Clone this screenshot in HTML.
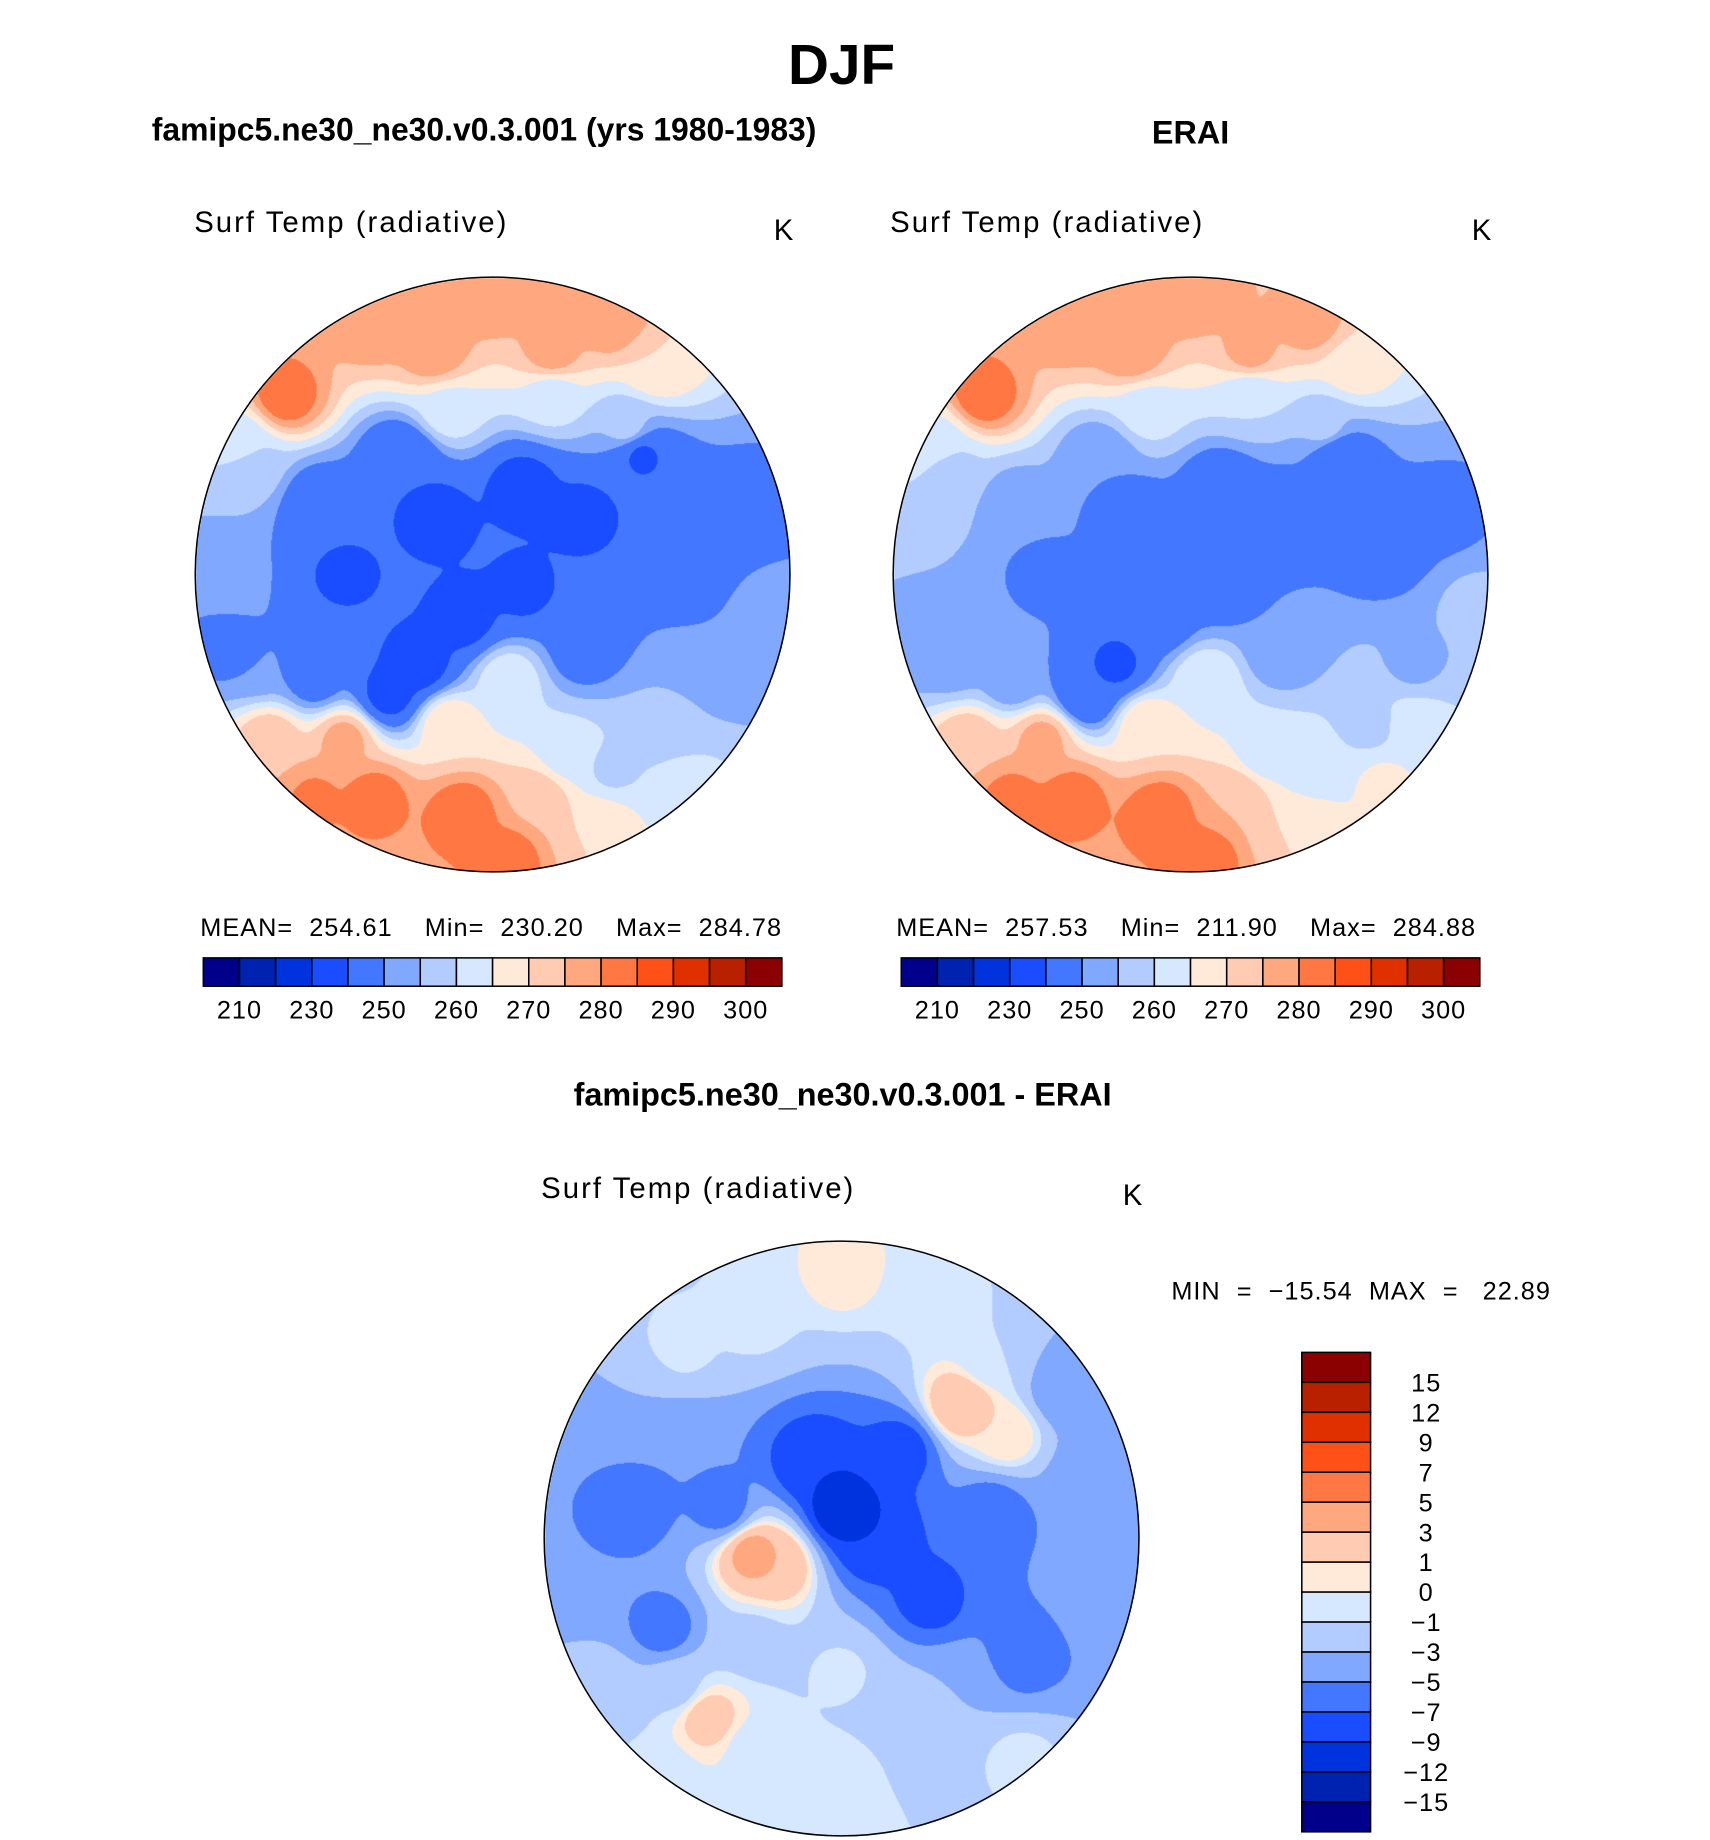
<!DOCTYPE html>
<html><head><meta charset="utf-8">
<style>
body{margin:0;background:#fff;}
#wrap{position:relative;width:1710px;height:1840px;overflow:hidden;background:#fff;}
#root{position:absolute;left:0;top:0;width:1710px;height:1840px;transform:scale(1.0115);transform-origin:0 0;font-family:"Liberation Sans",sans-serif;color:#000;}
.t{position:absolute;white-space:nowrap;line-height:1;transform:translateY(-50%);}
.c{transform:translate(-50%,-50%);}
.lbl{font-size:29px;letter-spacing:2px;font-weight:normal;}
.st{font-size:25px;letter-spacing:1px;}
canvas{position:absolute;}
svg{position:absolute;left:0;top:0;}
</style></head>
<body>
<div id="wrap">
<div id="root">
<div class="t c" style="left:832px;top:64px;font-size:56px;font-weight:bold;">DJF</div>
<div class="t" style="left:150px;top:128px;font-size:32px;font-weight:bold;transform:translateY(-50%) scaleX(0.985);transform-origin:left center;">famipc5.ne30_ne30.v0.3.001 (yrs 1980-1983)</div>
<div class="t c" style="left:1177px;top:131px;font-size:32px;font-weight:bold;">ERAI</div>
<div class="t lbl" style="left:192px;top:221px;">Surf Temp (radiative)</div>
<div class="t lbl" style="left:765px;top:229px;">K</div>
<div class="t lbl" style="left:880px;top:221px;">Surf Temp (radiative)</div>
<div class="t lbl" style="left:1455px;top:229px;">K</div>
<div class="t st" style="left:198px;top:918px;">MEAN=&nbsp; 254.61&nbsp;&nbsp;&nbsp; Min=&nbsp; 230.20&nbsp;&nbsp;&nbsp; Max=&nbsp; 284.78</div>
<div class="t st" style="left:886px;top:918px;">MEAN=&nbsp; 257.53&nbsp;&nbsp;&nbsp; Min=&nbsp; 211.90&nbsp;&nbsp;&nbsp; Max=&nbsp; 284.88</div>
<div class="t c" style="left:833px;top:1082px;font-size:32px;font-weight:bold;">famipc5.ne30_ne30.v0.3.001 - ERAI</div>
<div class="t lbl" style="left:535px;top:1176px;">Surf Temp (radiative)</div>
<div class="t lbl" style="left:1110px;top:1183px;">K</div>
<div class="t st" style="left:1158px;top:1277px;">MIN&nbsp; =&nbsp; −15.54&nbsp; MAX&nbsp; =&nbsp;&nbsp; 22.89</div>
<canvas id="cL" width="588" height="588" style="left:193px;top:274px;"></canvas>
<canvas id="cR" width="588" height="588" style="left:883px;top:274px;"></canvas>
<canvas id="cD" width="588" height="588" style="left:538px;top:1227px;"></canvas>
<svg id="ov" width="1710" height="1840"></svg>
</div>
</div>
<script>
const tLevels=[210,220,230,240,250,255,260,265,270,275,280,285,290,295,300];
const tTicks=[210,230,250,260,270,280,290,300];
const dLevels=[-15,-12,-9,-7,-5,-3,-1,0,1,3,5,7,9,12,15];
const dTicks=[15,12,9,7,5,3,1,0,-1,-3,-5,-7,-9,-12,-15];
const colors=["#00008b","#0022b0","#0033dd","#1a4dff","#4477ff","#80a8ff","#b3ccff","#d6e8ff","#ffead9","#ffcbb3","#ffa880","#ff7844","#ff5018","#e03000","#b82000","#8b0000"];
// Model map anchors
const mU=[0,-0.4,0.4,-0.7,0.55,-0.15,0.2,0.45,-0.8,-0.9,-0.9,-0.6,-0.5,-0.2,0.1,0.3,0.1,0.5,-0.3,0.65,0.85,0.95,0.75,0.6,0.4,0.25,0.35,0.65,0.3,-0.25,-0.1,-0.35,-0.6,-0.8,-0.75,-0.5,-0.15,0.05,-0.4,-0.1,0.05,-0.6,0.15,-0.85,-0.2,0.2];
const mV=[-0.95,-0.85,-0.85,-0.6,-0.7,-0.55,-0.6,-0.5,-0.35,0,0.25,-0.25,0,-0.2,-0.3,-0.2,0.05,-0.4,-0.4,-0.1,-0.2,0.1,0.3,0.5,0.65,0.6,0.85,0.7,0.25,0.3,0.15,0.4,0.35,0.3,0.55,0.55,0.5,0.35,0.75,0.8,0.95,0.75,0.75,-0.45,-0.75,-0.75];
const mVal=[280,280,279,284,270,263,262,257,257,252,248,244,238,236,236,237,238,239,241,243,246,252,250,256,259,262,270,262,246,234,236,236,246,250,274,277,270,264,283,284,283,281,274,262,279,278];
// ERAI map anchors
const eU=[0,-0.4,0.4,-0.7,0.55,-0.15,0.2,0.45,-0.8,-0.9,-0.9,-0.6,-0.5,-0.2,0.1,0.3,0.1,0.5,-0.3,0.65,0.85,0.95,0.75,0.6,0.4,0.25,0.35,0.65,0.3,-0.25,-0.1,-0.35,-0.6,-0.8,-0.75,-0.5,-0.15,0.05,-0.4,-0.1,0.05,-0.6,0.15,-0.85,0.75,-0.2,0.2];
const eV=[-0.95,-0.85,-0.85,-0.6,-0.7,-0.55,-0.6,-0.5,-0.35,0,0.25,-0.25,0,-0.2,-0.3,-0.2,0.05,-0.4,-0.4,-0.1,-0.2,0.1,0.3,0.5,0.65,0.6,0.85,0.7,0.25,0.3,0.15,0.4,0.35,0.3,0.55,0.55,0.5,0.35,0.75,0.8,0.95,0.75,0.75,-0.45,0.5,-0.75,-0.75];
const eVal=[280,280,278,284,268,262,260,257,258,255,252,252,248,245,244,244,246,243,250,244,248,256,254,258,262,262,270,266,250,238,244,240,250,252,274,277,270,265,283,284,283,282,275,263,263,279,277];
// Difference map anchors
const dU=[0,0.1,-0.1,0.2,-0.4,-0.7,-0.85,-0.6,0.5,0.7,0.85,0.6,0.3,0.4,0.2,0,-0.3,-0.55,-0.3,0,-0.6,0.3,-0.8,0,-0.3,0.3,-0.55,-0.7,0.5,0.4,0.55,0.75,-0.55,-0.3,-0.22,-0.45,0.6,-0.2,0.1,0.6,-0.85,0.9];
const dV=[-0.1,0,-0.25,-0.3,-0.1,-0.1,0.1,0.3,-0.1,0.1,-0.2,0.4,0.2,0.5,0.6,0.45,0.35,0.5,0.7,0.8,0.8,0.85,0.5,-0.9,-0.75,-0.8,-0.65,-0.5,-0.6,-0.45,-0.35,-0.5,-0.3,0.05,0.08,0.6,0.75,0.95,0.95,0.25,-0.2,0.2];
const dVal=[-11,-9,-9,-8,-6,-6,-5,-6,-6,-5,-5,-6,-8,-3,-1.5,-0.8,-1.5,-1.5,-0.5,-0.5,-0.5,-1.5,-2,0.5,-0.5,-0.5,-0.5,-3,-1,3,1,-5,-5,4,3,2,-0.5,-0.5,-0.5,-5,-5,-4];

function levelIndex(v,lev){let i=0;while(i<lev.length&&v>=lev[i])i++;return i;}
function hex(h){return [parseInt(h.substr(1,2),16),parseInt(h.substr(3,2),16),parseInt(h.substr(5,2),16)];}
const rgb=colors.map(hex);
function drawMap(id,us,vs,vals,lev){
  const cv=document.getElementById(id),ctx=cv.getContext('2d');
  const W=cv.width,R=W/2,img=ctx.createImageData(W,W);
  for(let y=0;y<W;y++)for(let x=0;x<W;x++){
    const u=(x-R)/R,v=(y-R)/R; if(u*u+v*v>1)continue;
    let s=0,w=0;
    for(let i=0;i<us.length;i++){const d=(u-us[i])**2+(v-vs[i])**2+1e-4;const ww=1/Math.pow(d,1.6);s+=ww*vals[i];w+=ww;}
    const c=rgb[levelIndex(s/w,lev)],k=(y*W+x)*4;
    img.data[k]=c[0];img.data[k+1]=c[1];img.data[k+2]=c[2];img.data[k+3]=255;
  }
  ctx.putImageData(img,0,0);
}
drawMap('cL',mU,mV,mVal,tLevels);
drawMap('cR',eU,eV,eVal,tLevels);
drawMap('cD',dU,dV,dVal,dLevels);

const NS="http://www.w3.org/2000/svg",ov=document.getElementById('ov');
function mk(tag,attrs){const e=document.createElementNS(NS,tag);for(const k in attrs)e.setAttribute(k,attrs[k]);ov.appendChild(e);return e;}
[[487,568],[1177,568],[832,1521]].forEach(function(p){
  const c=mk('circle',{cx:p[0],cy:p[1],r:294,fill:'none',stroke:'#000','stroke-width':1.5});
  
  
});
function hbar(x0,x1,y0,y1){
  const bw=(x1-x0)/colors.length;
  colors.forEach(function(col,i){
    const r=mk('rect',{x:x0+i*bw,y:y0,width:bw,height:y1-y0,fill:col,stroke:'#000','stroke-width':1.5});
    
    
  });
  tTicks.forEach(function(t){
    const idx=tLevels.indexOf(t)+1;
    const tx=mk('text',{x:x0+idx*bw,y:1007,'text-anchor':'middle','font-size':25,'font-family':'Liberation Sans, sans-serif','letter-spacing':1});
    tx.textContent=t;
    
    
  });
}
hbar(201,773,947,975);
hbar(891,1463,947,975);
(function(){
  const x0=1287,x1=1355,y0=1337,y1=1811,bh=(y1-y0)/colors.length;
  colors.slice().reverse().forEach(function(col,i){
    const r=mk('rect',{x:x0,y:y0+i*bh,width:x1-x0,height:bh,fill:col,stroke:'#000','stroke-width':1.5});
    
    
  });
  dTicks.forEach(function(t,i){
    const tx=mk('text',{x:1410,y:y0+(i+1)*bh+9,'text-anchor':'middle','font-size':25,'font-family':'Liberation Sans, sans-serif','letter-spacing':1});
    tx.textContent=(t<0?'\u2212'+(-t):String(t));
    
    
  });
})();
</script>
</body></html>
